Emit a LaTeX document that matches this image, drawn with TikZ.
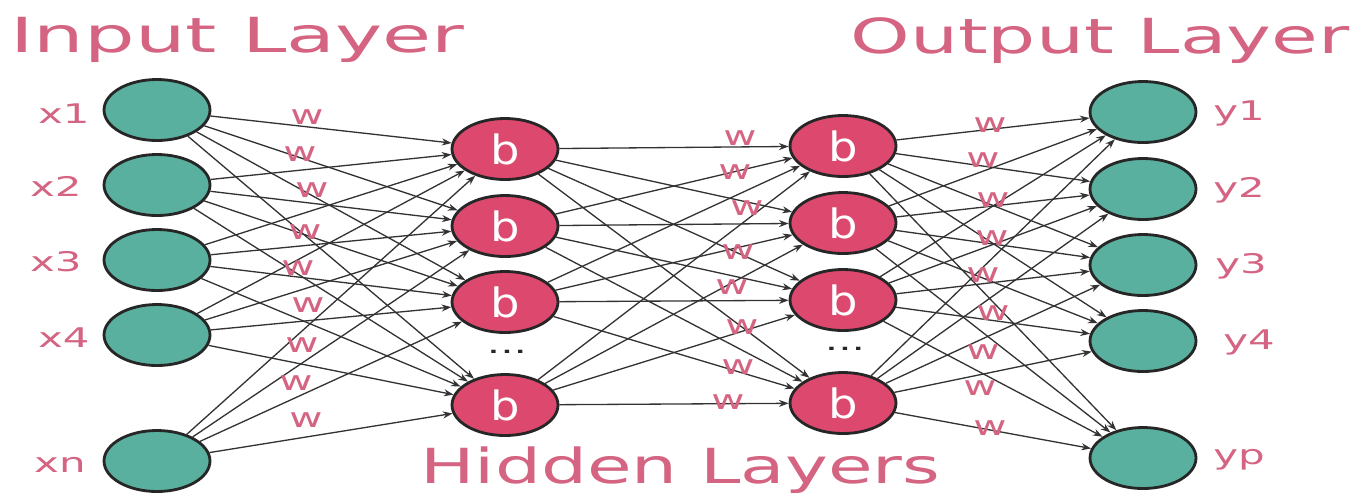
\documentclass[tikz,border=0pt]{standalone}
\usepackage{fontspec}
\setmainfont{DejaVu Sans}
\usetikzlibrary{shapes.geometric,arrows.meta}
\definecolor{nodeteal}{RGB}{90,176,158}
\definecolor{nodepink}{RGB}{220,72,110}
\definecolor{labelpink}{RGB}{212,100,130}
\newcommand\hstretch[2]{\scalebox{#1}[1]{#2}}

\begin{document}
\begin{tikzpicture}[x=0.02cm,y=-0.02cm,
  unit/.style={ellipse, draw=black!85, line width=1.6pt,
    minimum width=2.12cm, minimum height=1.22cm, inner sep=0pt},
  inunit/.style={unit, fill=nodeteal},
  hidunit/.style={unit, fill=nodepink, text=white,
    font=\fontsize{23}{25}\selectfont},
  conn/.style={draw=black!80, line width=0.75pt,
    -{Stealth[length=5.5pt,width=4pt]}},
  title/.style={text=labelpink, font=\fontsize{27.5}{30}\selectfont, inner sep=0pt},
  lbl/.style={text=labelpink, font=\fontsize{15.4}{17}\selectfont, inner sep=0pt},
  dotsl/.style={text=black!85, font=\fontsize{15}{17}\selectfont, inner sep=0pt}
]
\useasboundingbox (0,0) rectangle (1368,495);

% input layer
\foreach \i/\yy in {1/110,2/185,3/260,4/335,5/461}
  \node[inunit] (in\i) at (157,\yy) {};

% first hidden layer
\foreach \i/\yy in {1/149,2/226,3/302,4/405}
  \node[hidunit] (ha\i) at (505,\yy) {\hstretch{1.15}{b}};

% second hidden layer
\foreach \i/\yy in {1/146,2/223,3/300,4/403}
  \node[hidunit] (hb\i) at (843,\yy) {\hstretch{1.15}{b}};

% output layer
\foreach \i/\yy in {1/112,2/189,3/265,4/341,5/458}
  \node[inunit] (out\i) at (1143,\yy) {};

% fully connected weights
\foreach \i in {1,...,5}
  \foreach \j in {1,...,4}
    \draw[conn] (in\i) -- (ha\j);
\foreach \i in {1,...,4}
  \foreach \j in {1,...,4}
    \draw[conn] (ha\i) -- (hb\j);
\foreach \i in {1,...,4}
  \foreach \j in {1,...,5}
    \draw[conn] (hb\i) -- (out\j);

% ellipsis between the last two hidden units
\node[dotsl] (dotsa) at (507,352) {\hstretch{1.6}{...}};
\node[dotsl] (dotsb) at (845,349) {\hstretch{1.6}{...}};

% weight labels
\foreach \k/\xx/\yy in {1/307/117,2/300/154,3/312/190,4/305/232,5/298/268,
                        6/308/305,7/302/345,8/296/383,9/306/420}
  \node[lbl] (wa\k) at (\xx,\yy) {\hstretch{1.5}{w}};
\foreach \k/\xx/\yy in {1/740/138,2/735/172,3/747/208,4/738/252,
                        5/732/287,6/742/327,7/738/367,8/728/402}
  \node[lbl] (wb\k) at (\xx,\yy) {\hstretch{1.5}{w}};
\foreach \k/\xx/\yy in {1/990/125,2/983/160,3/993/200,4/992/238,5/983/275,
                        6/993/313,7/983/352,8/980/388,9/990/428}
  \node[lbl] (wc\k) at (\xx,\yy) {\hstretch{1.5}{w}};

% input names
\node[lbl, anchor=base east] (lx1) at (90,123) {\hstretch{1.55}{x1}};
\node[lbl, anchor=base east] (lx2) at (82,196) {\hstretch{1.55}{x2}};
\node[lbl, anchor=base east] (lx3) at (82,271) {\hstretch{1.55}{x3}};
\node[lbl, anchor=base east] (lx4) at (90,347) {\hstretch{1.55}{x4}};
\node[lbl, anchor=base east] (lxn) at (86,472) {\hstretch{1.55}{xn}};

% output names
\node[lbl, anchor=base west] (ly1) at (1213,120) {\hstretch{1.55}{y1}};
\node[lbl, anchor=base west] (ly2) at (1213,197) {\hstretch{1.55}{y2}};
\node[lbl, anchor=base west] (ly3) at (1215,273) {\hstretch{1.55}{y3}};
\node[lbl, anchor=base west] (ly4) at (1223,349) {\hstretch{1.55}{y4}};
\node[lbl, anchor=base west] (lyp) at (1213,464) {\hstretch{1.55}{yp}};

% layer titles
\node[title, anchor=base west] (tin) at (10,52) {\hstretch{1.65}{Input Layer}};
\node[title, anchor=base west] (tout) at (850,53) {\hstretch{1.57}{Output Layer}};
\node[title, anchor=base west] (thid) at (420,483) {\hstretch{1.50}{Hidden Layers}};
\end{tikzpicture}
\end{document}
